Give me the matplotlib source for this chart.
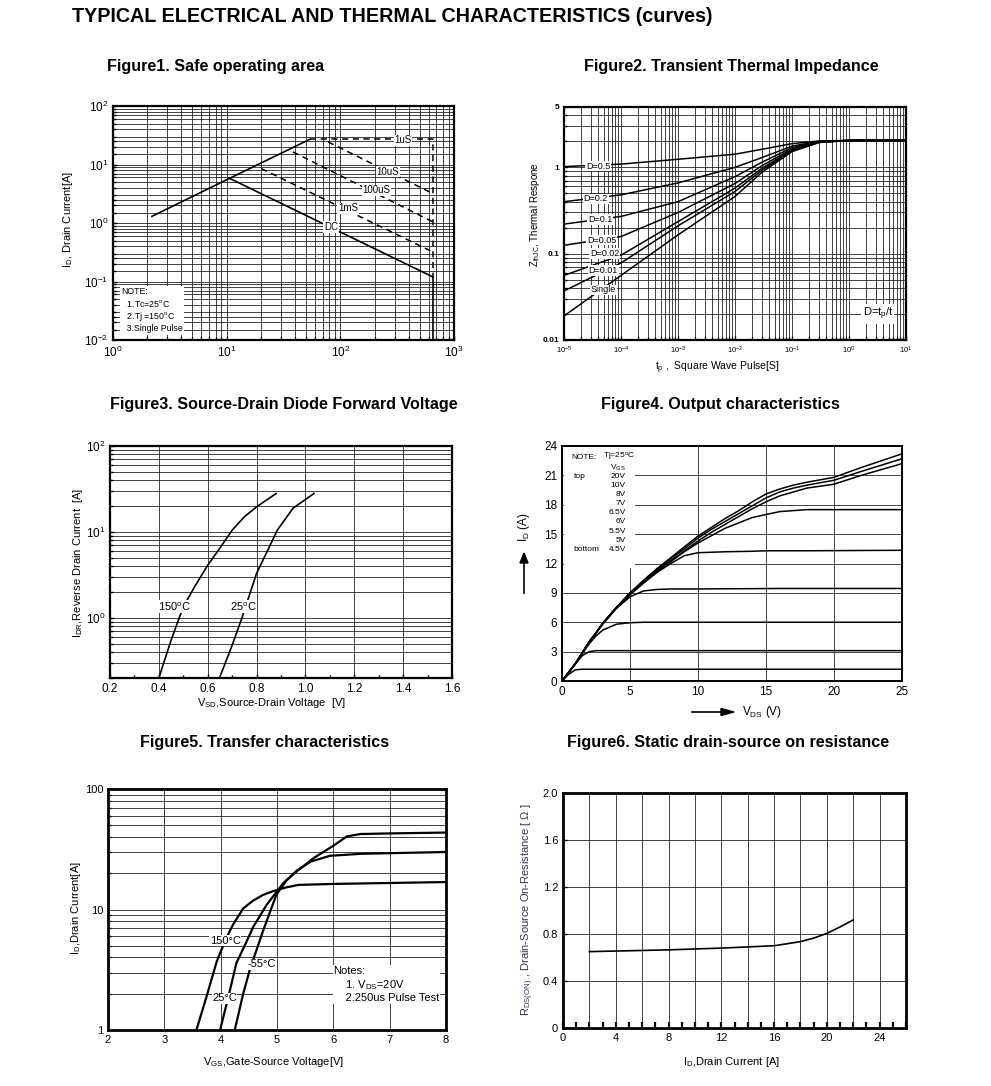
import matplotlib.pyplot as plt
from matplotlib.ticker import LogLocator, NullFormatter, FixedLocator, MultipleLocator, FixedFormatter
from matplotlib.patches import Rectangle

plt.rcParams['font.family'] = ['Liberation Sans', 'DejaVu Sans']
plt.rcParams['mathtext.default'] = 'regular'

W, H = 991, 1086

# ---- Figure 1: safe operating area ----
soa_v = [2.2, 10.6, 54]
soa_i = [1.3, 5.8, 27]
dc_v = [10.6, 650]
dc_i = [5.8, 0.12]
us1_v = [54, 650, 650]
us1_i = [27, 27, 0.12]
us10_v = [78, 650]
us10_i = [24.3, 3.2]
us100_v = [38.3, 650]
us100_i = [16.4, 1.05]
ms1_v = [20.2, 650]
ms1_i = [8.5, 0.32]
limit_v = [650, 650]
limit_i = [0.12, 0.01]
soa_labels = ['1uS', '10uS', '100uS', '1mS', 'DC']
soa_label_v = [355, 263, 207, 117, 83]
soa_label_i = [26, 7.5, 3.6, 1.78, 0.85]

# ---- Figure 2: transient thermal impedance ----
tp = [1e-5, 1e-4, 1e-3, 1e-2, 3e-2, 1e-1, 3e-1, 1, 10]
zth = {
    'D=0.5': [1.02, 1.09, 1.24, 1.42, 1.62, 1.88, 2.02, 2.05, 2.05],
    'D=0.2': [0.40, 0.48, 0.66, 1.00, 1.30, 1.76, 2.00, 2.05, 2.05],
    'D=0.1': [0.22, 0.27, 0.40, 0.78, 1.15, 1.69, 1.98, 2.05, 2.05],
    'D=0.05': [0.125, 0.158, 0.30, 0.65, 1.05, 1.63, 1.97, 2.05, 2.05],
    'D=0.02': [0.056, 0.096, 0.235, 0.575, 0.98, 1.58, 1.96, 2.05, 2.05],
    'D=0.01': [0.037, 0.078, 0.21, 0.525, 0.93, 1.55, 1.95, 2.05, 2.05],
    'Single': [0.019, 0.056, 0.165, 0.46, 0.88, 1.52, 1.94, 2.05, 2.05],
}
zth_label_t = [4.0e-5, 3.6e-5, 4.3e-5, 4.6e-5, 5.2e-5, 4.9e-5, 4.9e-5]
zth_label_z = [1.03, 0.43, 0.25, 0.143, 0.100, 0.064, 0.038]

# ---- Figure 3: diode forward voltage ----
vsd_150 = [0.40, 0.45, 0.50, 0.55, 0.60, 0.65, 0.70, 0.75, 0.80, 0.88]
idr_150 = [0.2, 0.55, 1.35, 2.4, 4.1, 6.5, 10.5, 15, 19.6, 28]
vsd_25 = [0.648, 0.70, 0.74, 0.80, 0.85, 0.885, 0.95, 1.035]
idr_25 = [0.2, 0.48, 1.0, 3.3, 6.5, 10.5, 19, 28]

# ---- Figure 4: output characteristics ----
vds_20 = [0, 0.5, 1, 1.5, 2, 2.5, 3, 4, 5, 6, 7, 8, 9, 10, 11, 12, 13, 14, 15, 16, 17, 18, 20, 22, 25]
id_20 = [0, 0.9, 1.8, 2.9, 4.0, 4.9, 5.9, 7.5, 9.0, 10.3, 11.5, 12.6, 13.7, 14.8, 15.7, 16.6, 17.4, 18.3, 19.1, 19.6, 20.0, 20.3, 20.8, 21.8, 23.2]
id_10 = [0, 0.9, 1.8, 2.9, 4.0, 4.9, 5.9, 7.5, 9.0, 10.2, 11.4, 12.5, 13.5, 14.6, 15.5, 16.3, 17.1, 17.9, 18.7, 19.3, 19.7, 20.0, 20.5, 21.4, 22.7]
id_8 = [0, 0.9, 1.8, 2.9, 4.0, 4.9, 5.9, 7.5, 8.9, 10.1, 11.3, 12.3, 13.3, 14.3, 15.2, 16.0, 16.8, 17.6, 18.3, 18.9, 19.3, 19.7, 20.1, 21.0, 22.2]
vds_sat = [0, 0.5, 1, 1.5, 2, 2.5, 3, 4, 5, 6, 7, 8, 9, 10, 12, 14, 15, 16, 18, 25]
id_7 = [0, 0.9, 1.8, 2.9, 4.0, 4.9, 5.9, 7.5, 8.9, 10.1, 11.2, 12.2, 13.2, 14.1, 15.6, 16.7, 17.0, 17.3, 17.5, 17.5]
id_65 = [0, 0.9, 1.8, 2.9, 4.0, 4.9, 5.9, 7.5, 8.8, 10.0, 11.1, 12.0, 12.8, 13.1, 13.2, 13.25, 13.3, 13.3, 13.3, 13.35]
id_6 = [0, 0.9, 1.8, 2.9, 4.0, 4.9, 5.8, 7.4, 8.6, 9.2, 9.35, 9.4, 9.4, 9.4, 9.42, 9.43, 9.44, 9.45, 9.45, 9.45]
id_55 = [0, 0.9, 1.8, 2.8, 3.8, 4.6, 5.2, 5.8, 5.95, 6.0, 6.0, 6.0, 6.0, 6.0, 6.0, 6.0, 6.0, 6.0, 6.0, 6.0]
id_5 = [0, 0.9, 1.75, 2.6, 3.0, 3.1, 3.1, 3.1, 3.1, 3.1, 3.1, 3.1, 3.1, 3.1, 3.1, 3.1, 3.1, 3.1, 3.1, 3.1]
id_45 = [0, 0.7, 1.15, 1.2, 1.2, 1.2, 1.2, 1.2, 1.2, 1.2, 1.2, 1.2, 1.2, 1.2, 1.2, 1.2, 1.2, 1.2, 1.2, 1.2]
vgs_names = ['20V', '10V', '8V', '7V', '6.5V', '6V', '5.5V', '5V', '4.5V']

# ---- Figure 5: transfer characteristics ----
vgs_150 = [3.57, 3.75, 3.93, 4.10, 4.22, 4.40, 4.57, 4.75, 4.93, 5.15, 5.38, 6.0, 7.0, 8.0]
id_t150 = [1.0, 1.9, 3.7, 5.8, 7.5, 10.2, 11.8, 13.2, 14.2, 15.2, 16.0, 16.3, 16.6, 16.9]
vgs_25 = [3.99, 4.15, 4.28, 4.45, 4.58, 4.82, 5.11, 5.35, 5.6, 5.94, 6.5, 8.0]
id_t25 = [1.0, 2.0, 3.6, 5.3, 7.2, 11, 16.5, 21, 25, 27.9, 29, 30]
vgs_m55 = [4.25, 4.40, 4.52, 4.76, 4.99, 5.17, 5.35, 5.65, 6.0, 6.24, 6.48, 7.0, 8.0]
id_tm55 = [1.0, 2.0, 3.2, 6.8, 13.3, 17.5, 20.7, 26.7, 33.8, 40.4, 42.3, 42.8, 43.5]

# ---- Figure 6: on resistance ----
id_r = [2, 4, 8, 12, 16, 18, 19, 20, 21, 22]
rdson = [0.65, 0.655, 0.665, 0.68, 0.70, 0.735, 0.765, 0.805, 0.86, 0.92]

fig = plt.figure(figsize=(W / 100, H / 100), dpi=100)


def box(x0, y0, x1, y1):
    # pixel box -> axes rect
    return [x0 / W, 1 - y1 / H, (x1 - x0) / W, (y1 - y0) / H]


def ftext(x, y, s, **kw):
    fig.text(x / W, 1 - y / H, s, **kw)


def style(ax, lw=1.6):
    for sp in ax.spines.values():
        sp.set_linewidth(lw)
    ax.tick_params(which='both', direction='in', labelsize=8.5, length=3, width=1)
    ax.tick_params(which='minor', length=2)
    ax.set_axisbelow(True)


grid_kw = dict(color='#222222', linewidth=0.6)

ftext(72, 17, 'TYPICAL ELECTRICAL AND THERMAL CHARACTERISTICS (curves)', fontsize=14.2, fontweight='bold', va='center')
tkw = dict(fontsize=11.6, fontweight='bold', ha='center', va='center')
ftext(216, 67, 'Figure1. Safe operating area', **tkw)
ftext(731, 67, 'Figure2. Transient Thermal Impedance', **tkw)
ftext(284, 405, 'Figure3. Source-Drain Diode Forward Voltage', **tkw)
ftext(720, 405, 'Figure4. Output characteristics', **tkw)
ftext(265, 742, 'Figure5. Transfer characteristics', **tkw)
ftext(728, 742, 'Figure6. Static drain-source on resistance', **tkw)

# Figure 1
ax1 = fig.add_axes(box(113, 106, 454, 340))
ax1.set_xscale('log')
ax1.set_yscale('log')
ax1.set_xlim(1, 1000)
ax1.set_ylim(0.01, 100)
ax1.yaxis.set_minor_locator(LogLocator(base=10, subs=[1.5, 2, 2.5, 3, 4, 5, 6, 7, 8, 9]))
ax1.yaxis.set_minor_formatter(NullFormatter())
ax1.xaxis.set_minor_formatter(NullFormatter())
ax1.grid(True, which='both', **grid_kw)
style(ax1)
ax1.plot(soa_v, soa_i, color='black', lw=1.2)
ax1.plot(dc_v, dc_i, color='black', lw=1.2)
ax1.plot(limit_v, limit_i, color='black', lw=1.2)
for v, i in [(us1_v, us1_i), (us10_v, us10_i), (us100_v, us100_i), (ms1_v, ms1_i)]:
    ax1.plot(v, i, color='black', lw=1.1, ls=(0, (4, 3)))
for s, v, i in zip(soa_labels, soa_label_v, soa_label_i):
    ax1.text(v, i, s, fontsize=7, ha='center', va='center',
             bbox=dict(facecolor='white', edgecolor='none', pad=0.5))
ax1.text(0.025, 0.225, 'NOTE:\n  1.Tc=25$^o$C\n  2.Tj =150$^o$C\n  3.Single Pulse', transform=ax1.transAxes,
         fontsize=6.3, va='top', ha='left', linespacing=1.15,
         bbox=dict(facecolor='white', edgecolor='none', pad=1))
ftext(68, 220, '$I_D$, Drain Current[A]', fontsize=8, rotation=90, ha='center', va='center')

# Figure 2
ax2 = fig.add_axes(box(564, 107, 906, 340))
ax2.set_xscale('log')
ax2.set_yscale('log')
ax2.set_xlim(1e-5, 10)
ax2.set_ylim(0.01, 5)
ax2.yaxis.set_major_locator(FixedLocator([0.01, 0.1, 1, 5]))
ax2.yaxis.set_major_formatter(FixedFormatter(['0.01', '0.1', '1', '5']))
ax2.yaxis.set_minor_locator(LogLocator(base=10, subs=[2, 3, 4, 5, 6, 7, 8, 9]))
ax2.yaxis.set_minor_formatter(NullFormatter())
ax2.xaxis.set_major_locator(LogLocator(base=10, numticks=10))
ax2.xaxis.set_minor_locator(LogLocator(base=10, subs=[2, 3, 4, 5, 6, 7, 8, 9], numticks=20))
ax2.xaxis.set_minor_formatter(NullFormatter())
ax2.grid(True, which='both', **grid_kw)
style(ax2)
ax2.tick_params(axis='x', labelsize=5.5)
ax2.tick_params(axis='y', labelsize=6)
for lab in ax2.get_yticklabels():
    lab.set_fontweight('bold')
for name, z in zth.items():
    ax2.plot(tp, z, color='black', lw=1.1)
for name, t, z in zip(zth.keys(), zth_label_t, zth_label_z):
    ax2.text(t, z, name, fontsize=6.5, ha='center', va='center',
             bbox=dict(facecolor='white', edgecolor='none', pad=0.5))
ax2.text(3.2, 0.020, 'D=t$_p$/t', fontsize=8, ha='center', va='center',
         bbox=dict(facecolor='white', edgecolor='none', pad=1))
ftext(535, 215, '$Z_{thJC}$, Thermal Respone', fontsize=7, rotation=90, ha='center', va='center')
ftext(717, 368, '$t_p$ ,  Square Wave Pulse[S]', fontsize=7.5, ha='center', va='center')

# Figure 3
ax3 = fig.add_axes(box(110, 446, 452, 678))
ax3.set_yscale('log')
ax3.set_xlim(0.2, 1.6)
ax3.set_ylim(0.2, 100)
ax3.xaxis.set_major_locator(FixedLocator([0.2, 0.4, 0.6, 0.8, 1.0, 1.2, 1.4, 1.6]))
ax3.xaxis.set_major_formatter(FixedFormatter(['0.2', '0.4', '0.6', '0.8', '1.0', '1.2', '1.4', '1.6']))
ax3.xaxis.set_minor_locator(MultipleLocator(0.1))
ax3.yaxis.set_major_locator(FixedLocator([1, 10, 100]))
ax3.yaxis.set_minor_formatter(NullFormatter())
ax3.grid(True, which='major', axis='x', **grid_kw)
ax3.grid(True, which='both', axis='y', **grid_kw)
style(ax3)
ax3.plot(vsd_150, idr_150, color='black', lw=1.2)
ax3.plot(vsd_25, idr_25, color='black', lw=1.2)
ax3.text(0.465, 1.35, '150$^o$C', fontsize=8, ha='center', va='center',
         bbox=dict(facecolor='white', edgecolor='none', pad=0.3))
ax3.text(0.745, 1.35, '25$^o$C', fontsize=8, ha='center', va='center',
         bbox=dict(facecolor='white', edgecolor='none', pad=0.3))
ftext(78, 563, '$I_{DR}$,Reverse Drain Current  [A]', fontsize=8, rotation=90, ha='center', va='center')
ftext(272, 703, '$V_{SD}$,Source-Drain Voltage  [V]', fontsize=8, ha='center', va='center')

# Figure 4
ax4 = fig.add_axes(box(562, 446, 902, 681))
ax4.set_xlim(0, 25)
ax4.set_ylim(0, 24)
ax4.xaxis.set_major_locator(MultipleLocator(5))
ax4.yaxis.set_major_locator(MultipleLocator(3))
ax4.grid(True, **grid_kw)
style(ax4, lw=1.4)
ax4.tick_params(length=0)
ax4.add_patch(Rectangle((0.005, 0.48), 0.21, 0.515, transform=ax4.transAxes,
                        facecolor='white', edgecolor='none', zorder=1.5))
for v, i in [(vds_20, id_20), (vds_20, id_10), (vds_20, id_8), (vds_sat, id_7), (vds_sat, id_65),
             (vds_sat, id_6), (vds_sat, id_55), (vds_sat, id_5), (vds_sat, id_45)]:
    ax4.plot(v, i, color='black', lw=1.1, zorder=3)
nkw = dict(transform=ax4.transAxes, fontsize=6, va='center', zorder=4)
ax4.text(0.028, 0.952, 'NOTE:', **nkw)
ax4.text(0.216, 0.952, 'Tj=25$^o$C', ha='right', **nkw)
ax4.text(0.188, 0.906, '$V_{GS}$', ha='right', **nkw)
for k, s in enumerate(vgs_names):
    ax4.text(0.188, 0.872 - k * 0.039, s, ha='right', **nkw)
ax4.text(0.035, 0.872, 'top', **nkw)
ax4.text(0.035, 0.872 - 8 * 0.039, 'bottom', **nkw)
ftext(524, 527, '$I_D$ (A)', fontsize=8.5, rotation=90, ha='center', va='center')
fig.add_artist(plt.Line2D([524 / W, 524 / W], [1 - 593 / H, 1 - 562 / H], color='black', lw=1.2))
fig.add_artist(plt.Polygon([[520 / W, 1 - 563 / H], [528 / W, 1 - 563 / H], [524 / W, 1 - 553 / H]],
                           closed=True, color='black'))
ftext(762, 712, '$V_{DS}$ (V)', fontsize=8.5, ha='center', va='center')
fig.add_artist(plt.Line2D([692 / W, 722 / W], [1 - 712 / H, 1 - 712 / H], color='black', lw=1.2))
fig.add_artist(plt.Polygon([[721 / W, 1 - 708.5 / H], [721 / W, 1 - 715.5 / H], [734 / W, 1 - 712 / H]],
                           closed=True, color='black'))

# Figure 5
ax5 = fig.add_axes(box(108, 789, 446, 1030))
ax5.set_yscale('log')
ax5.set_xlim(2, 8)
ax5.set_ylim(1, 100)
ax5.xaxis.set_major_locator(MultipleLocator(1))
ax5.yaxis.set_major_locator(FixedLocator([1, 10, 100]))
ax5.yaxis.set_major_formatter(FixedFormatter(['1', '10', '100']))
ax5.yaxis.set_minor_formatter(NullFormatter())
ax5.grid(True, which='major', axis='x', **grid_kw)
ax5.grid(True, which='both', axis='y', **grid_kw)
style(ax5, lw=2)
ax5.tick_params(labelsize=8, length=0)
ax5.plot(vgs_150, id_t150, color='black', lw=1.6)
ax5.plot(vgs_25, id_t25, color='black', lw=1.6)
ax5.plot(vgs_m55, id_tm55, color='black', lw=1.6)
ax5.text(4.08, 5.5, '150°C', fontsize=8, ha='center', va='center',
         bbox=dict(facecolor='white', edgecolor='none', pad=0.3))
ax5.text(4.73, 3.5, '-55°C', fontsize=8, ha='center', va='center',
         bbox=dict(facecolor='white', edgecolor='none', pad=0.3))
ax5.text(4.07, 1.83, '25°C', fontsize=8, ha='center', va='center',
         bbox=dict(facecolor='white', edgecolor='none', pad=0.3))
ax5.text(6.0, 3.4, 'Notes:\n    1. $V_{DS}$=20V\n    2.250us Pulse Test', fontsize=8, ha='left', va='top',
         linespacing=1.2, bbox=dict(facecolor='white', edgecolor='none', pad=0.5))
ftext(76, 908, '$I_D$,Drain Current[A]', fontsize=8, rotation=90, ha='center', va='center')
ftext(273, 1062, '$V_{GS}$,Gate-Source Voltage[V]', fontsize=8, ha='center', va='center')

# Figure 6
ax6 = fig.add_axes(box(563, 793, 906, 1028))
ax6.set_xlim(0, 26)
ax6.set_ylim(0, 2.0)
ax6.xaxis.set_major_locator(FixedLocator([0, 4, 8, 12, 16, 20, 24]))
ax6.xaxis.set_minor_locator(MultipleLocator(1))
ax6.yaxis.set_major_locator(FixedLocator([0, 0.4, 0.8, 1.2, 1.6, 2.0]))
ax6.yaxis.set_major_formatter(FixedFormatter(['0', '0.4', '0.8', '1.2', '1.6', '2.0']))
for gx in range(2, 26, 2):
    ax6.axvline(gx, **grid_kw)
ax6.grid(True, axis='y', **grid_kw)
style(ax6, lw=2)
ax6.tick_params(labelsize=8)
ax6.tick_params(axis='x', which='both', length=4, width=1.6)
ax6.plot(id_r, rdson, color='black', lw=1.2)
ftext(528, 910, '$R_{DS(ON)}$ , Drain-Source On-Resistance [ Ω ]', fontsize=8, rotation=90,
      ha='center', va='center', color='#2e3650')
ftext(731, 1062, '$I_D$,Drain Current [A]', fontsize=8, ha='center', va='center')

fig.savefig('out.png', dpi=100)
